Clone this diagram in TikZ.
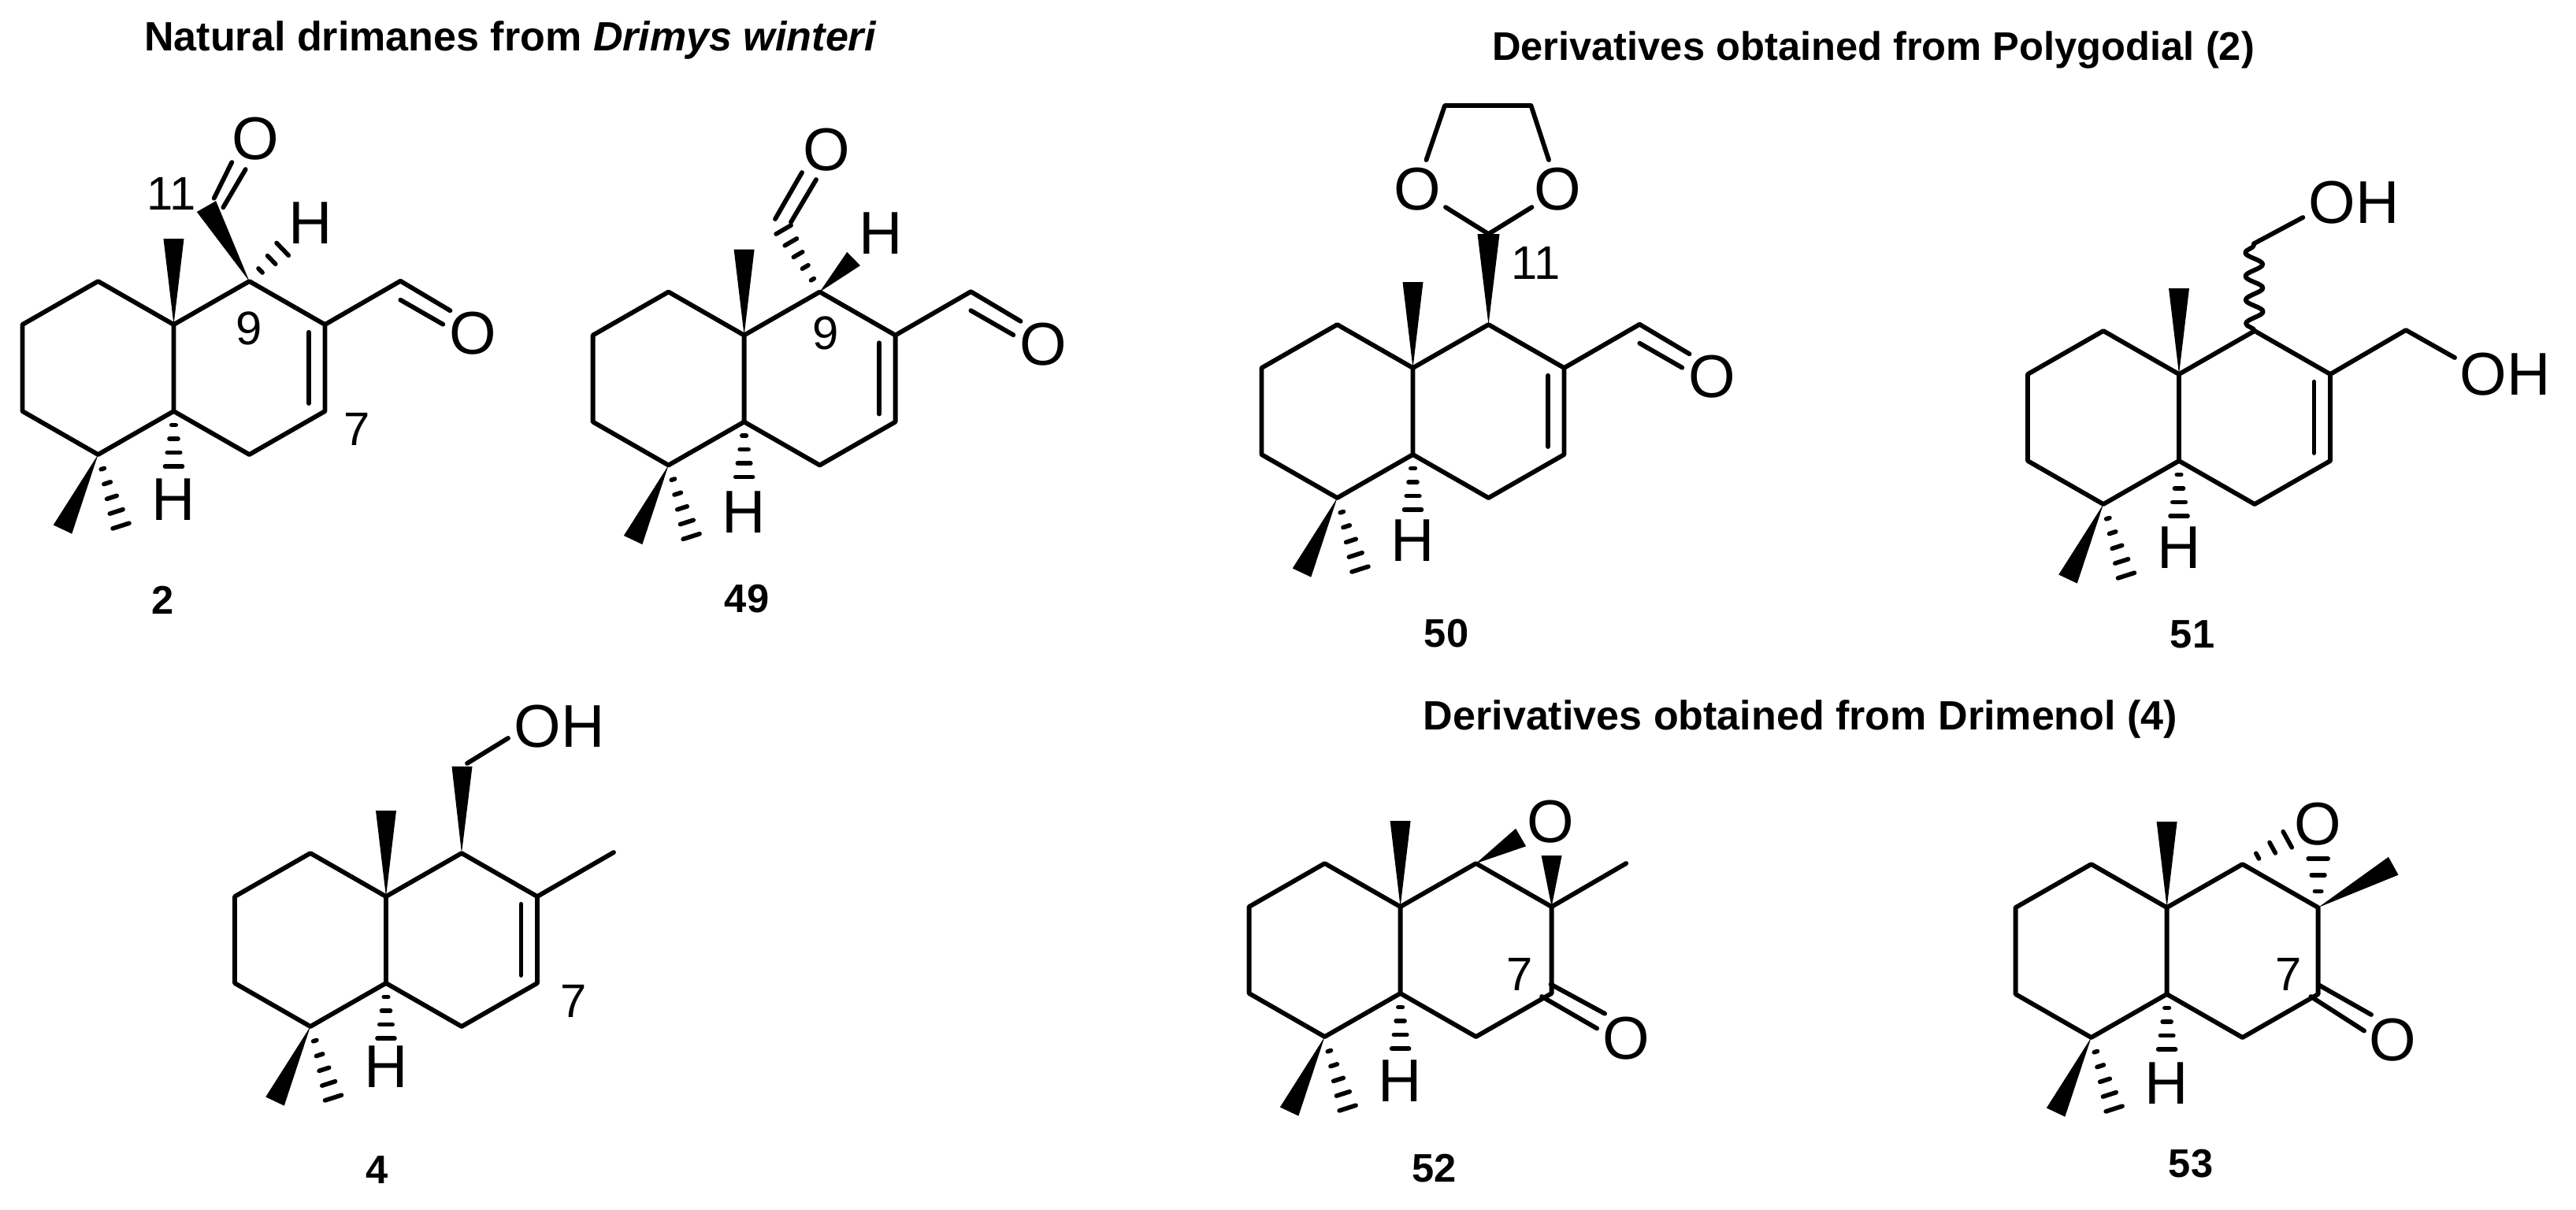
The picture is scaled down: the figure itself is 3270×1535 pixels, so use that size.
\documentclass[tikz,border=0pt]{standalone}
\usepackage{fontspec}
\setmainfont{Liberation Sans}
\usetikzlibrary{calc,decorations.pathmorphing}

\tikzset{
	bond/.style={line width=1.65pt,line cap=round,line join=round},
	hashline/.style={line width=1.6pt,line cap=round},
	atom/.style={inner sep=0pt,font=\fontsize{21.8}{24}\selectfont},
	locant/.style={inner sep=0pt,font=\fontsize{17}{20}\selectfont},
	cmpd/.style={inner sep=0pt,font=\fontsize{14.4}{17}\selectfont\bfseries},
	heading/.style={inner sep=0pt,anchor=base,font=\fontsize{14.8}{17}\selectfont\bfseries},
	wavy/.style={bond,decorate,decoration={snake,segment length=.30cm,amplitude=.11cm}}
}
% filled wedge, from the narrow atom to the wide end
\newcommand{\wedgebond}[3]{
	\fill ($(#2)!#3*.01cm!90:(#1)$) -- (#1) -- ($(#2)!#3*.01cm!-90:(#1)$) -- cycle;
}
% hashed wedge with #4 dashes
\newcommand{\hashbond}[4]{
	\foreach \k in {1,...,#4}{
		\pgfmathsetmacro{\hw}{#3*\k/#4*.01}
		\coordinate (hh) at ($(#1)!\k/#4!(#2)$);
		\draw[hashline] ($(hh)!\hw cm!90:(#1)$) -- ($(hh)!\hw cm!-90:(#1)$);
	}
}
% the two rings with c10 at the origin, #2 is the height of the H on c5
\newcommand{\drimane}[2]{
	\coordinate (#1c10) at (0,0);
	\coordinate (#1c1) at (-96,-55);
	\coordinate (#1c2) at (-192,0);
	\coordinate (#1c3) at (-192,110);
	\coordinate (#1c4) at (-96,165);
	\coordinate (#1c5) at (0,110);
	\coordinate (#1c6) at (96,165);
	\coordinate (#1c7) at (192,110);
	\coordinate (#1c8) at (192,0);
	\coordinate (#1c9) at (96,-55);
	\coordinate (#1me) at (0,-109);
	\coordinate (#1mea) at (-141,260);
	\coordinate (#1meb) at (-67,255.5);
	\coordinate (#1hh) at (0,180);
	\draw[bond] (#1c10)--(#1c1)--(#1c2)--(#1c3)--(#1c4)--(#1c5)--cycle;
	\draw[bond] (#1c10)--(#1c9)--(#1c8)--(#1c7)--(#1c6)--(#1c5);
	\wedgebond{#1c10}{#1me}{13}
	\wedgebond{#1c4}{#1mea}{13}
	\hashbond{#1c4}{#1meb}{11}{5}
	\hashbond{#1c5}{#1hh}{11}{4}
	\node[atom] (#1h) at (0,#2) {H};
}
% inner line of the c7=c8 double bond
\newcommand{\ringdouble}[1]{
	\coordinate (#1da) at (171.5,9.7);
	\coordinate (#1db) at (171.5,100);
	\draw[bond] (#1da)--(#1db);
}
\newcommand{\formyl}[1]{
	\coordinate (#1c12) at (287.8,-55.3);
	\coordinate (#1ea) at (351,-17.7);
	\coordinate (#1eb) at (287.8,-31.3);
	\coordinate (#1ec) at (341.8,-.3);
	\node[atom] (#1o12) at (379.5,11.5) {O};
	\draw[bond] (#1c8)--(#1c12)--(#1ea);
	\draw[bond] (#1eb)--(#1ec);
}

\begin{document}
\begin{tikzpicture}[x=.01cm,y=-.01cm]
	\useasboundingbox (0,0) rectangle (3270,1535);
	\node[heading] (natural) at (648,64) {Natural drimanes from \textit{Drimys winteri}};
	\node[heading,font=\fontsize{14.4}{17}\selectfont\bfseries] (polygodial) at (2378,76) {Derivatives obtained from Polygodial (2)};
	\node[heading] (drimenol) at (2285.5,926.4) {Derivatives obtained from Drimenol (4)};
	%
	\begin{scope}[shift={(220.5,412)}]
		\drimane{s2}{222}
		\ringdouble{s2}
		\formyl{s2}
		\coordinate (s2w) at (41.5,-150);
		\coordinate (s2c11) at (51.2,-160.3);
		\coordinate (s2ea) at (73.8,-206);
		\coordinate (s2eb) at (62.8,-148.7);
		\coordinate (s2ec) at (91.2,-197);
		\coordinate (s2hb) at (138.2,-95.7);
		\wedgebond{s2c9}{s2w}{14}
		\draw[bond] (s2c11)--(s2ea);
		\draw[bond] (s2eb)--(s2ec);
		\hashbond{s2c9}{s2hb}{11}{3}
		\node[atom] (s2o11) at (103.8,-236) {O};
		\node[atom] (s2h9) at (173.5,-128.7) {H};
		\node[locant] (s2n9) at (95.5,5) {9};
		\node[locant] (s2n11) at (-3,-166) {11};
		\node[locant] (s2n7) at (232.5,133) {7};
	\end{scope}
	\node[cmpd] (name2) at (207,762) {2};
	%
	\begin{scope}[shift={(944.6,425.5)}]
		\drimane{s49}{225}
		\ringdouble{s49}
		\formyl{s49}
		\coordinate (s49c11) at (50,-134);
		\coordinate (s49fa) at (39.4,-147.5);
		\coordinate (s49fb) at (73.4,-206.5);
		\coordinate (s49fc) at (59.4,-143.5);
		\coordinate (s49fd) at (91.4,-197.5);
		\coordinate (s49hb) at (139,-97);
		\hashbond{s49c9}{s49c11}{11}{5}
		\draw[bond] (s49fa)--(s49fb);
		\draw[bond] (s49fc)--(s49fd);
		\wedgebond{s49c9}{s49hb}{12}
		\node[atom] (s49o11) at (104.5,-235.5) {O};
		\node[atom] (s49h9) at (174,-129.5) {H};
		\node[locant] (s49n9) at (103.5,-3) {9};
	\end{scope}
	\node[cmpd] (name49) at (948,760) {49};
	%
	\begin{scope}[shift={(1793.5,467)}]
		\drimane{s50}{219}
		\ringdouble{s50}
		\formyl{s50}
		\coordinate (s50c11) at (96,-170);
		\coordinate (s50oa) at (41.5,-204);
		\coordinate (s50ob) at (151,-204);
		\coordinate (s50oc) at (17,-264);
		\coordinate (s50od) at (172.5,-264);
		\coordinate (s50ca) at (40.5,-333);
		\coordinate (s50cb) at (150,-333);
		\wedgebond{s50c9}{s50c11}{14}
		\draw[bond] (s50oa)--(s50c11)--(s50ob);
		\draw[bond] (s50oc)--(s50ca)--(s50cb)--(s50od);
		\node[atom] (s50ol) at (5.5,-227) {O};
		\node[atom] (s50or) at (184,-227) {O};
		\node[locant] (s50n11) at (156.5,-132.6) {11};
	\end{scope}
	\node[cmpd] (name50) at (1836,804) {50};
	%
	\begin{scope}[shift={(2766,475)}]
		\drimane{s51}{220}
		\ringdouble{s51}
		\coordinate (s51c11) at (95,-165.7);
		\coordinate (s51ea) at (157.3,-199);
		\coordinate (s51c12) at (288,-56);
		\coordinate (s51eb) at (350,-21);
		\draw[wavy] (s51c9)--(s51c11);
		\draw[bond] (s51c11)--(s51ea);
		\draw[bond] (s51c8)--(s51c12)--(s51eb);
		\node[atom] (s51oh) at (222,-217.5) {OH};
		\node[atom] (s51ohb) at (414,0) {OH};
	\end{scope}
	\node[cmpd] (name51) at (2783,805) {51};
	%
	\begin{scope}[shift={(490,1138)}]
		\drimane{s4}{216}
		\ringdouble{s4}
		\coordinate (s4w) at (96.5,-165);
		\coordinate (s4c11) at (103,-169);
		\coordinate (s4ea) at (155,-201);
		\coordinate (s4me) at (289,-56);
		\wedgebond{s4c9}{s4w}{13}
		\draw[bond] (s4c11)--(s4ea);
		\draw[bond] (s4c8)--(s4me);
		\node[atom] (s4oh) at (220,-216.4) {OH};
		\node[locant] (s4n7) at (238,133.4) {7};
	\end{scope}
	\node[cmpd] (name4) at (478.7,1485) {4};
	%
	\begin{scope}[shift={(1777.6,1151)}]
		\drimane{s52}{221}
		\coordinate (s52w) at (153,-88);
		\coordinate (s52wb) at (192,-65);
		\coordinate (s52me) at (286.6,-55);
		\coordinate (s52ea) at (191,98.5);
		\coordinate (s52eb) at (259.5,135.7);
		\coordinate (s52ec) at (179.5,114);
		\coordinate (s52ed) at (249.5,154.5);
		\wedgebond{s52c9}{s52w}{13}
		\wedgebond{s52c8}{s52wb}{13}
		\draw[bond] (s52c8)--(s52me);
		\draw[bond] (s52ea)--(s52eb);
		\draw[bond] (s52ec)--(s52ed);
		\node[atom] (s52oe) at (190.8,-107.6) {O};
		\node[atom] (s52o) at (286.5,167) {O};
		\node[locant] (s52n7) at (151.4,85.5) {7};
	\end{scope}
	\node[cmpd] (name52) at (1820.5,1483) {52};
	%
	\begin{scope}[shift={(2750.6,1152)}]
		\drimane{s53}{223}
		\coordinate (s53ha) at (153.1,-86.3);
		\coordinate (s53hb) at (192,-62);
		\coordinate (s53w) at (287.6,-52.8);
		\coordinate (s53ea) at (194,99);
		\coordinate (s53eb) at (259.4,136);
		\coordinate (s53ec) at (182.8,113);
		\coordinate (s53ed) at (250.4,156.5);
		\hashbond{s53c9}{s53ha}{11.5}{3}
		\hashbond{s53c8}{s53hb}{12.5}{3}
		\wedgebond{s53c8}{s53w}{13}
		\draw[bond] (s53ea)--(s53eb);
		\draw[bond] (s53ec)--(s53ed);
		\node[atom] (s53oe) at (191.7,-106) {O};
		\node[atom] (s53o) at (286.4,168) {O};
		\node[locant] (s53n7) at (154.6,84.5) {7};
	\end{scope}
	\node[cmpd] (name53) at (2781,1477.5) {53};
\end{tikzpicture}
\end{document}
